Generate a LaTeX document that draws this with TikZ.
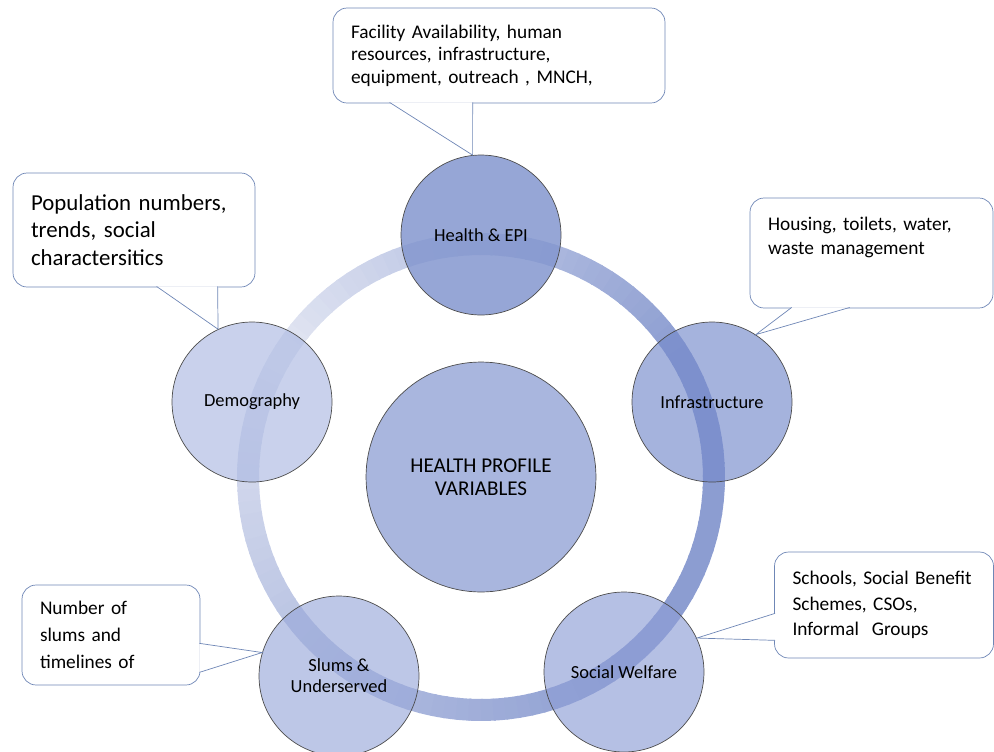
\documentclass[tikz,border=0pt]{standalone}
\usepackage{fontspec}
\setmainfont{Carlito}
\definecolor{ringlight}{HTML}{E6E9F4}
\definecolor{ringdark}{HTML}{8C9DD1}
\definecolor{healthfill}{HTML}{8497CF}
\definecolor{infrafill}{HTML}{758ACB}
\definecolor{welfarefill}{HTML}{8E9ED6}
\definecolor{slumsfill}{HTML}{9AA9DA}
\definecolor{demogfill}{HTML}{ACB9E2}
\definecolor{hubfill}{HTML}{A9B6DE}
\definecolor{notecol}{HTML}{6F87B6}

\begin{document}
\begin{tikzpicture}[x=0.02cm, y=-0.02cm,
  topic/.style={circle, draw=gray!60!black, thin, fill opacity=0.65, text opacity=1, minimum size=3.2cm, inner sep=0pt, align=center, font=\fontsize{10.5}{12}\selectfont},
  note/.style={draw=notecol, fill=white, rounded corners=8pt, inner xsep=0.36cm, align=left, font=\fontsize{11}{14}\selectfont},
  tail/.style={draw=notecol, fill=white, line join=miter}]
\useasboundingbox (0,0) rectangle (994,751);
\coordinate (c) at (481,477);
% ring behind the topics, light at upper left, dark at right
\foreach \a in {0,3,...,357} {
  \pgfmathsetmacro{\s}{mod(145-\a+720,360)}
  \pgfmathtruncatemacro{\t}{\s<115 ? 5+\s/115*95 : (\s<200 ? 100 : 100-(\s-200)/160*95)}
  \draw[line width=0.44cm, ringdark!\t!ringlight] (c) ++(\a:4.66cm) arc[start angle=\a, end angle=\a+3.5, radius=4.66cm];
}
\node[topic, fill=hubfill, fill opacity=1, minimum size=4.6cm, font=\fontsize{12}{13}\selectfont] (hub) at (c) {HEALTH PROFILE\\VARIABLES};
\node[topic, fill=healthfill, fill opacity=0.85] (health) at (481,235) {Health \& EPI};
\node[topic, fill=infrafill] (infra) at (712,402) {Infrastructure};
\node[topic, fill=welfarefill] (welfare) at (624,672) {Social Welfare};
\node[topic, fill=slumsfill] (slums) at (339,676) {Slums \&\\Underserved};
\node[topic, fill=demogfill] (demog) at (252,402) {Demography};

% notes
\node[note, minimum width=6.64cm, minimum height=1.9cm, text width=5.92cm, font=\fontsize{11}{12.8}\selectfont] (healthnote) at (499,55.5)
  {Facility Availability, human\\resources, infrastructure,\\equipment, outreach , MNCH,};
\draw[tail] ([xshift=1.14cm, yshift=0.5pt]healthnote.south west) -- (health.96) -- ([xshift=2.8cm, yshift=0.5pt]healthnote.south west);

\node[note, minimum width=4.84cm, minimum height=2.28cm, text width=4.12cm, font=\fontsize{13}{15.6}\selectfont] (demognote) at (134,230)
  {Population numbers,\\trends, social\\charactersitics};
\draw[tail] ([xshift=2.88cm, yshift=0.5pt]demognote.south west) -- (demog.115) -- ([xshift=4.1cm, yshift=0.5pt]demognote.south west);

\node[note, minimum width=4.86cm, minimum height=2.2cm, text width=4.14cm] (infranote) at (871.5,253)
  {Housing, toilets, water,\\waste management\\[2mm]\mbox{}};
\draw[tail] ([xshift=0.84cm, yshift=0.5pt]infranote.south west) -- (infra.57) -- ([xshift=2cm, yshift=0.5pt]infranote.south west);

\node[note, minimum width=3.56cm, minimum height=2cm, text width=2.84cm, font=\fontsize{11}{15.3}\selectfont] (slumsnote) at (111,635)
  {Number of\\slums and\\timelines of};
\draw[tail] ([xshift=-0.5pt, yshift=0.84cm]slumsnote.south east) -- (slums.163) -- ([xshift=-0.5pt, yshift=0.26cm]slumsnote.south east);

\node[note, minimum width=4.38cm, minimum height=2.12cm, text width=3.66cm, font=\fontsize{11}{14.5}\selectfont] (welfarenote) at (884,605)
  {Schools, Social Benefit\\Schemes, CSOs,\\Informal\ \ Groups};
\draw[tail] ([xshift=0.5pt, yshift=0.9cm]welfarenote.south west) -- (welfare.25) -- ([xshift=0.5pt, yshift=0.36cm]welfarenote.south west);
\end{tikzpicture}
\end{document}
